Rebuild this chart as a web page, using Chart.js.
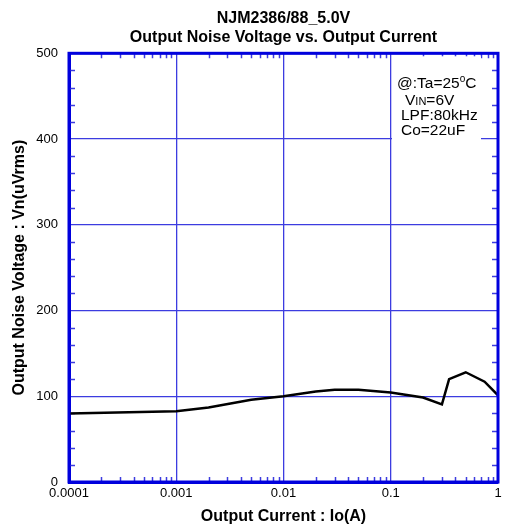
<!DOCTYPE html>
<html>
<head>
<meta charset="utf-8">
<script src="https://cdn.jsdelivr.net/npm/chart.js@4.4.0/dist/chart.umd.min.js"></script>
<style>
  html, body { margin: 0; padding: 0; background: #fff; }
</style>
</head>
<body>
<canvas id="chart" width="510" height="528"></canvas>
<script>
// Output current (A) and noise voltage (uVrms)
const current = [0.0001, 0.001, 0.002, 0.005, 0.01, 0.02, 0.03, 0.05, 0.1, 0.2, 0.3, 0.35, 0.5, 0.75, 1];
const noise   = [80, 82.5, 87, 96, 100, 105.5, 107.5, 107.5, 104.5, 98.5, 90.5, 120, 128, 117, 101];

const titleLines = ['NJM2386/88_5.0V', 'Output Noise Voltage vs. Output Current'];
const xTitle = 'Output Current : Io(A)';
const yTitle = 'Output Noise Voltage : Vn(uVrms)';
const yMajorStep = 100;
const yMinorStep = 20;

const BLUE_AXIS = '#0000dd';
const BLUE_GRID = '#3c3ce0';
const FONT = "'Liberation Sans', Arial, sans-serif";

Chart.defaults.font.family = FONT;
Chart.defaults.color = '#000';

function isDecade(v) {
    const l = Math.log10(v);
    return Math.abs(l - Math.round(l)) < 1e-6;
}

// minor ticks, outer frame and the conditions note
const framePlugin = {
    id: 'frame',
    beforeDatasetsDraw(chart) {
        const { ctx, chartArea: a } = chart;
        const x = chart.scales.x, y = chart.scales.y;
        ctx.save();
        ctx.strokeStyle = BLUE_GRID;
        ctx.lineWidth = 1.5;
        ctx.beginPath();
        // x minor ticks (2..9 per decade), top and bottom, inward
        for (let d = Math.log10(x.min); d < Math.log10(x.max); d++) {
            for (let m = 2; m <= 9; m++) {
                const px = Math.round(x.getPixelForValue(m * Math.pow(10, d))) + 0.5;
                ctx.moveTo(px, a.top); ctx.lineTo(px, a.top + 5);
                ctx.moveTo(px, a.bottom); ctx.lineTo(px, a.bottom - 5);
            }
        }
        // y minor ticks, left and right, inward
        for (let v = y.min + yMinorStep; v < y.max; v += yMinorStep) {
            if (v % yMajorStep === 0) continue;
            const py = Math.round(y.getPixelForValue(v)) + 0.5;
            ctx.moveTo(a.left, py); ctx.lineTo(a.left + 6, py);
            ctx.moveTo(a.right, py); ctx.lineTo(a.right - 6, py);
        }
        ctx.stroke();

        // conditions note on a white box
        const bx = a.right - 106, by = a.top + 3;
        ctx.fillStyle = '#fff';
        ctx.fillRect(bx, by, 89, 90);
        ctx.fillStyle = '#000';
        ctx.textBaseline = 'alphabetic';
        ctx.textAlign = 'left';
        ctx.font = '15.5px ' + FONT;
        let tx = a.right - 101, ty = a.top + 34.5;
        ctx.fillText('@:Ta=25', tx, ty);
        tx += ctx.measureText('@:Ta=25').width;
        ctx.font = '10px ' + FONT;
        ctx.fillText('o', tx, ty - 6);
        tx += ctx.measureText('o').width;
        ctx.font = '15.5px ' + FONT;
        ctx.fillText('C', tx, ty);

        tx = a.right - 93; ty = a.top + 52;
        ctx.fillText('V', tx, ty);
        tx += ctx.measureText('V').width;
        ctx.font = '11px ' + FONT;
        ctx.fillText('IN', tx, ty);
        tx += ctx.measureText('IN').width;
        ctx.font = '15.5px ' + FONT;
        ctx.fillText('=6V', tx, ty);

        ctx.fillText('LPF:80kHz', a.right - 97, a.top + 67);
        ctx.fillText('Co=22uF', a.right - 97, a.top + 82);
        ctx.restore();
    },
    afterDraw(chart) {
        const { ctx, chartArea: a } = chart;
        ctx.save();
        ctx.strokeStyle = BLUE_AXIS;
        ctx.lineWidth = 3;
        ctx.strokeRect(a.left, a.top, a.right - a.left, a.bottom - a.top);
        ctx.restore();
    }
};

new Chart(document.getElementById('chart'), {
    type: 'line',
    data: {
        datasets: [{
            data: current.map((c, i) => ({ x: c, y: noise[i] })),
            borderColor: '#000',
            borderWidth: 2.5,
            pointRadius: 0,
            tension: 0,
            fill: false
        }]
    },
    options: {
        responsive: false,
        animation: false,
        layout: { padding: { left: 0, right: 12, top: 0, bottom: 0 } },
        scales: {
            x: {
                type: 'logarithmic',
                min: 0.0001,
                max: 1,
                afterFit: s => { s.height = 46; },
                border: { color: BLUE_AXIS, width: 3 },
                grid: {
                    drawTicks: false,
                    lineWidth: 1.3,
                    color: c => isDecade(c.tick.value) ? BLUE_GRID : 'rgba(0,0,0,0)'
                },
                ticks: {
                    autoSkip: false,
                    maxRotation: 0,
                    padding: 4,
                    font: { size: 13 },
                    callback: v => isDecade(v) ? String(Number(v.toPrecision(1))) : ''
                },
                title: {
                    display: true,
                    text: xTitle,
                    font: { size: 16, weight: 'bold' },
                    padding: { top: 0, bottom: 2 }
                }
            },
            y: {
                min: 0,
                max: 500,
                afterFit: s => { s.width = 69; },
                border: { color: BLUE_AXIS, width: 3 },
                grid: { drawTicks: false, color: BLUE_GRID, lineWidth: 1.3 },
                ticks: { stepSize: yMajorStep, padding: 11, font: { size: 13 } },
                title: {
                    display: true,
                    text: yTitle,
                    font: { size: 16, weight: 'bold' },
                    padding: { top: 10, bottom: 0 }
                }
            }
        },
        plugins: {
            legend: { display: false },
            tooltip: { enabled: false },
            title: {
                display: true,
                fullSize: false,
                text: titleLines,
                font: { size: 16, weight: 'bold', lineHeight: 1.15 },
                padding: { top: 9.5, bottom: 7 }
            }
        }
    },
    plugins: [framePlugin]
});
</script>
</body>
</html>
